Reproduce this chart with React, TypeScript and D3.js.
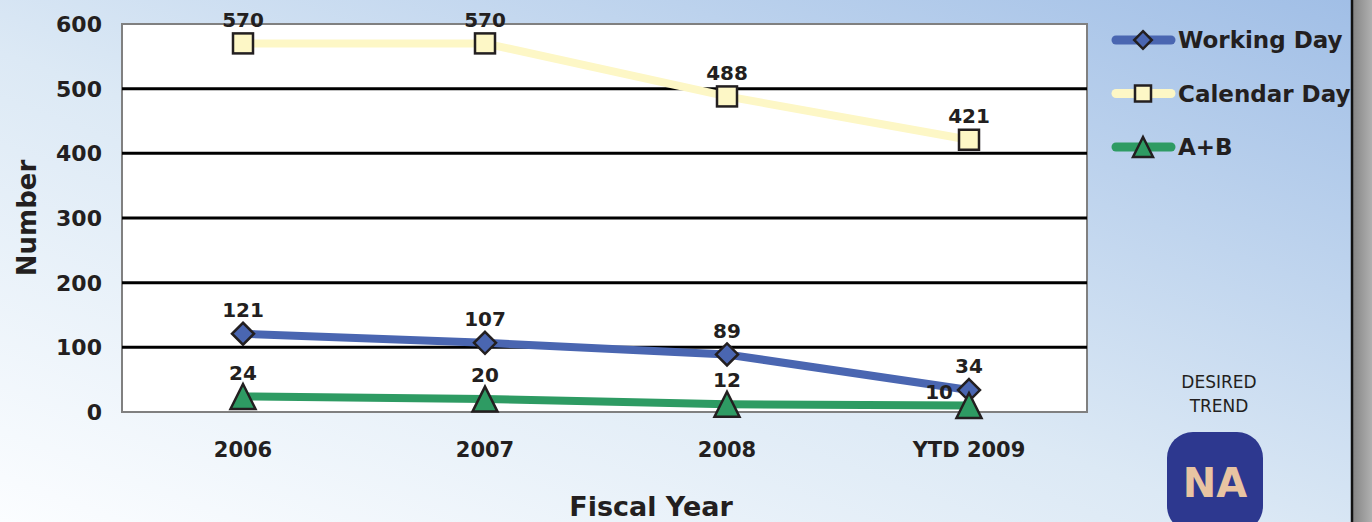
import React from "react";
import * as d3 from "d3";

const categories = ["2006", "2007", "2008", "YTD 2009"];
const workingDay = [121, 107, 89, 34];
const calendarDay = [570, 570, 488, 421];
const aPlusB = [24, 20, 12, 10];
const yTicks = [0, 100, 200, 300, 400, 500, 600];
const seriesNames = ["Working Day", "Calendar Day", "A+B"];

const W = 1372, H = 522;
const M = { left: 122, top: 24, right: 1087, bottom: 412 };
const FONT = "'DejaVu Sans', sans-serif";

function Marker({ type, x, y, fill, k = 1 }: { type: string; x: number; y: number; fill: string; k?: number }) {
  if (type === "diamond") {
    const s = 11 * k;
    return <path d={`M${x},${y - s}L${x + s},${y}L${x},${y + s}L${x - s},${y}Z`} fill={fill} stroke="#231f20" strokeWidth={2.5} />;
  }
  if (type === "square") {
    const s = 10 * k;
    return <rect x={x - s} y={y - s} width={2 * s} height={2 * s} fill={fill} stroke="#231f20" strokeWidth={2.5} />;
  }
  const s = 12.5 * k;
  return <path d={`M${x},${y - s}L${x + s},${y + s}L${x - s},${y + s}Z`} fill={fill} stroke="#231f20" strokeWidth={2.5} />;
}

export default function App() {
  const x = d3.scaleBand().domain(categories).range([M.left, M.left + 968]);
  const y = d3.scaleLinear().domain([0, 600]).range([M.bottom, M.top]);
  const cx = (c: string) => (x(c) as number) + x.bandwidth() / 2;
  const line = d3.line<number>().x((_, i) => cx(categories[i])).y((d) => y(d));

  const series = [
    { name: seriesNames[0], data: workingDay, color: "#4a66b1", mfill: "#4a66b1", marker: "diamond" },
    { name: seriesNames[1], data: calendarDay, color: "#fdf7c6", mfill: "#fdf7c6", marker: "square" },
    { name: seriesNames[2], data: aPlusB, color: "#2e9b63", mfill: "#2e9b63", marker: "triangle" },
  ];
  const drawOrder = [1, 0, 2];

  return (
    <svg width={W} height={H} style={{ position: "absolute", left: 0, top: 0, display: "block" }}>
      <defs>
        <linearGradient id="bg" x1="0" y1="1" x2="1" y2="0">
          <stop offset="0" stopColor="#fbfdff" />
          <stop offset="0.45" stopColor="#dce9f5" />
          <stop offset="1" stopColor="#a0bee6" />
        </linearGradient>
        <linearGradient id="edge" x1="0" y1="0" x2="1" y2="0">
          <stop offset="0" stopColor="#858585" />
          <stop offset="1" stopColor="#b0b0b0" />
        </linearGradient>
      </defs>
      <rect x={0} y={0} width={W} height={H} fill="url(#bg)" />
      <rect x={1353} y={0} width={19} height={H} fill="url(#edge)" />
      <line x1={1352} x2={1352} y1={0} y2={H} stroke="#111" strokeWidth={2.5} />

      <rect x={M.left} y={M.top} width={M.right - M.left} height={M.bottom - M.top} fill="#fff" stroke="#808080" strokeWidth={2} />
      {yTicks.filter((t) => t > 0 && t < 600).map((t) => (
        <line key={t} x1={M.left} x2={M.right} y1={y(t)} y2={y(t)} stroke="#000" strokeWidth={3} />
      ))}
      {yTicks.map((t) => (
        <text key={t} x={102} y={y(t)} dy="0.36em" textAnchor="end" fontFamily={FONT} fontWeight="bold" fontSize={22} fill="#231f20">{t}</text>
      ))}
      {categories.map((c) => (
        <text key={c} x={cx(c)} y={457} textAnchor="middle" fontFamily={FONT} fontWeight="bold" fontSize={21} fill="#231f20">{c}</text>
      ))}
      <text x={cx(categories[1]) + 166} y={516} textAnchor="middle" fontFamily={FONT} fontWeight="bold" fontSize={27} fill="#231f20">Fiscal Year</text>
      <text transform={`translate(36,${y(300)}) rotate(-90)`} textAnchor="middle" fontFamily={FONT} fontWeight="bold" fontSize={26} fill="#231f20">Number</text>

      {drawOrder.map((si) => {
        const s = series[si];
        return (
          <g key={s.name}>
            <path d={line(s.data) as string} fill="none" stroke={s.color} strokeWidth={8} />
          </g>
        );
      })}
      {drawOrder.map((si) => {
        const s = series[si];
        return (
          <g key={s.name + "m"}>
            {s.data.map((v, i) => (
              <Marker key={i} type={s.marker} x={cx(categories[i])} y={y(v)} fill={s.mfill} />
            ))}
          </g>
        );
      })}
      {drawOrder.map((si) => {
        const s = series[si];
        return (
          <g key={s.name + "l"}>
            {s.data.map((v, i) => {
              const special = si === 2 && i === 3;
              return (
                <text key={i}
                  x={special ? cx(categories[i]) - 16 : cx(categories[i])}
                  y={special ? y(v) - 14 : y(v) - 24}
                  dy="0.36em"
                  textAnchor={special ? "end" : "middle"}
                  fontFamily={FONT} fontWeight="bold" fontSize={20} fill="#231f20">{v}</text>
              );
            })}
          </g>
        );
      })}

      {series.map((s, i) => {
        const ly = 40 + i * 53.5;
        return (
          <g key={s.name + "leg"}>
            <line x1={1116} x2={1171} y1={ly} y2={ly} stroke={s.color} strokeWidth={9} strokeLinecap="round" />
            <Marker type={s.marker} x={1143} y={ly} fill={s.mfill} k={0.8} />
            <text x={1178} y={ly} dy="0.36em" fontFamily={FONT} fontWeight="bold" fontSize={23} fill="#231f20">{s.name}</text>
          </g>
        );
      })}

      <text x={1219} y={388} textAnchor="middle" fontFamily={FONT} fontSize={17} fill="#231f20">DESIRED</text>
      <text x={1219} y={412} textAnchor="middle" fontFamily={FONT} fontSize={17} fill="#231f20">TREND</text>
      <rect x={1167} y={432} width={96} height={100} rx={26} fill="#2d388f" />
      <text x={1215} y={497} textAnchor="middle" fontFamily={FONT} fontWeight="bold" fontSize={40} fill="#e8c4a2">NA</text>
    </svg>
  );
}
